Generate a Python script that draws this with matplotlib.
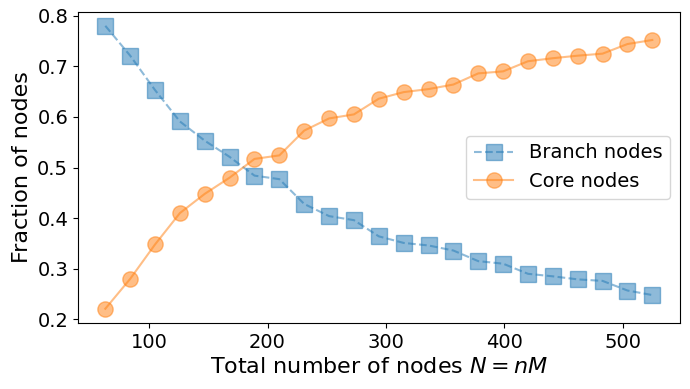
import matplotlib
matplotlib.use("Agg")
import matplotlib.pyplot as plt

N = [63, 84, 105, 126, 147, 168, 189, 210, 231, 252, 273, 294, 315, 336, 357,
     378, 399, 420, 441, 462, 483, 504, 525]
branch = [0.780, 0.721, 0.653, 0.591, 0.553, 0.521, 0.484, 0.477, 0.428, 0.404, 0.396,
          0.364, 0.351, 0.346, 0.336, 0.315, 0.310, 0.290, 0.285, 0.279, 0.276,
          0.257, 0.248]
core = [0.221, 0.280, 0.348, 0.410, 0.448, 0.480, 0.517, 0.524, 0.573, 0.597, 0.605,
        0.636, 0.649, 0.655, 0.664, 0.686, 0.690, 0.710, 0.716, 0.721, 0.725,
        0.744, 0.752]

fig = plt.figure(figsize=(6.9, 3.89), dpi=100)
ax = fig.add_axes([0.113, 0.170, 0.872, 0.800])
ax.plot(N, branch, 's--', color='tab:blue', alpha=0.5, markersize=11, label='Branch nodes')
ax.plot(N, core, 'o-', color='tab:orange', alpha=0.5, markersize=11, label='Core nodes')
ax.set_xlabel(r'Total number of nodes $N = nM$', fontsize=16)
ax.set_ylabel('Fraction of nodes', fontsize=16)
ax.tick_params(labelsize=14)
ax.set_yticks([0.2, 0.3, 0.4, 0.5, 0.6, 0.7, 0.8])
ax.legend(fontsize=14, loc='center right')
fig.savefig('out.png', dpi=100)
